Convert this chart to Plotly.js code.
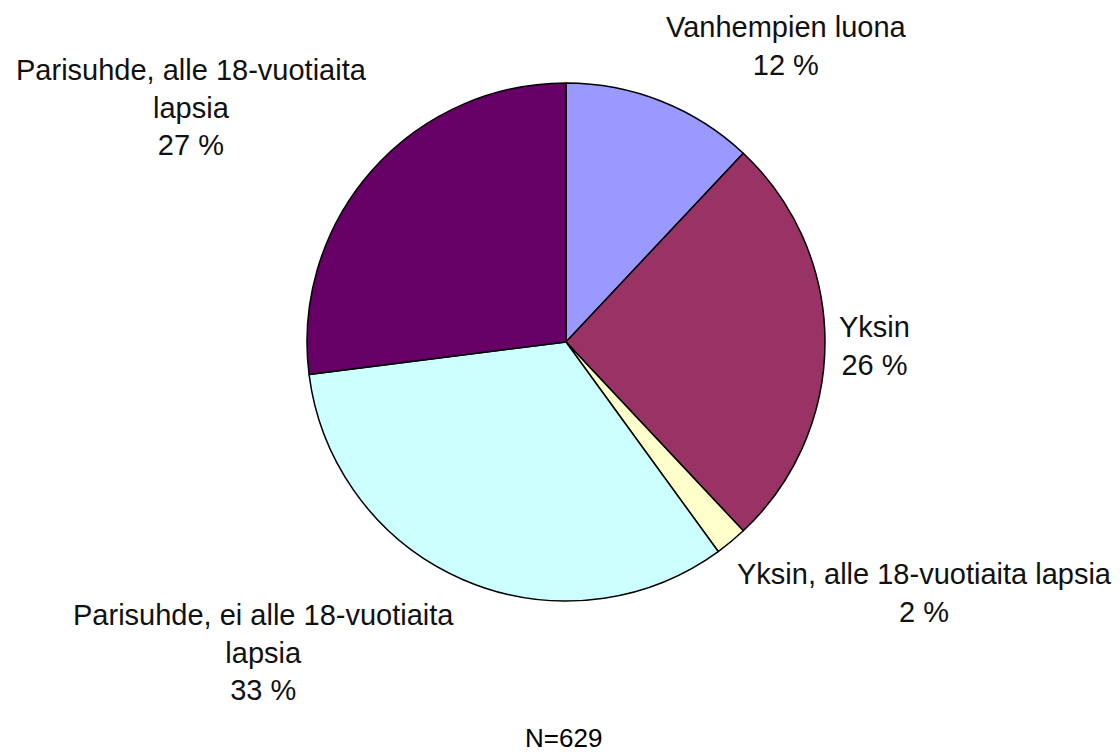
<!DOCTYPE html>
<html>
<head>
<meta charset="utf-8">
<script src="https://cdn.plot.ly/plotly-3.0.1.min.js"></script>
<style>html,body{margin:0;padding:0;background:#fff;}#chart{width:1120px;height:752px;}</style>
</head>
<body>
<div id="chart"></div>
<script>
// Data
const categories = [
  "Vanhempien luona",
  "Yksin",
  "Yksin, alle 18-vuotiaita lapsia",
  "Parisuhde, ei alle 18-vuotiaita lapsia",
  "Parisuhde, alle 18-vuotiaita lapsia"
];
const shares = [12, 26, 2, 33, 27];
const labelLines = [
  "Vanhempien luona",
  "Yksin",
  "Yksin, alle 18-vuotiaita lapsia",
  "Parisuhde, ei alle 18-vuotiaita<br>lapsia",
  "Parisuhde, alle 18-vuotiaita<br>lapsia"
];
const sampleNote = "N=629";

// Styles
const sliceColors = ["#9999FF", "#993366", "#FFFFCC", "#CCFFFF", "#660066"];
const labelPos = [ // [x px, y px center]
  [787, 46],
  [874, 346],
  [924, 593],
  [263, 652],
  [191, 108]
];
const W = 1120, H = 752;

const annotations = categories.map((c, i) => ({
  text: labelLines[i] + "<br>" + shares[i] + " %",
  x: labelPos[i][0] / W,
  y: 1 - labelPos[i][1] / H,
  xref: "paper", yref: "paper",
  xanchor: "center", yanchor: "middle",
  align: "center",
  showarrow: false,
  font: {family: "Liberation Sans, Arial, sans-serif", size: 29, color: "#111"}
}));
annotations.push({
  text: sampleNote,
  x: 563 / W, y: 1 - 738 / H,
  xref: "paper", yref: "paper",
  xanchor: "center", yanchor: "middle",
  showarrow: false,
  font: {family: "Liberation Sans, Arial, sans-serif", size: 26, color: "#000"}
});

const trace = {
  type: "pie",
  labels: categories,
  values: shares,
  sort: false,
  direction: "clockwise",
  rotation: 0,
  textinfo: "none",
  hoverinfo: "label+percent",
  marker: {colors: sliceColors, line: {color: "#000", width: 1.5}},
  domain: {x: [307 / W, 825 / W], y: [1 - 601 / H, 1 - 83 / H]}
};

Plotly.newPlot("chart", [trace], {
  width: W, height: H,
  margin: {l: 0, r: 0, t: 0, b: 0},
  paper_bgcolor: "#fff",
  showlegend: false,
  annotations: annotations
}, {displayModeBar: false, staticPlot: true});
</script>
</body>
</html>
